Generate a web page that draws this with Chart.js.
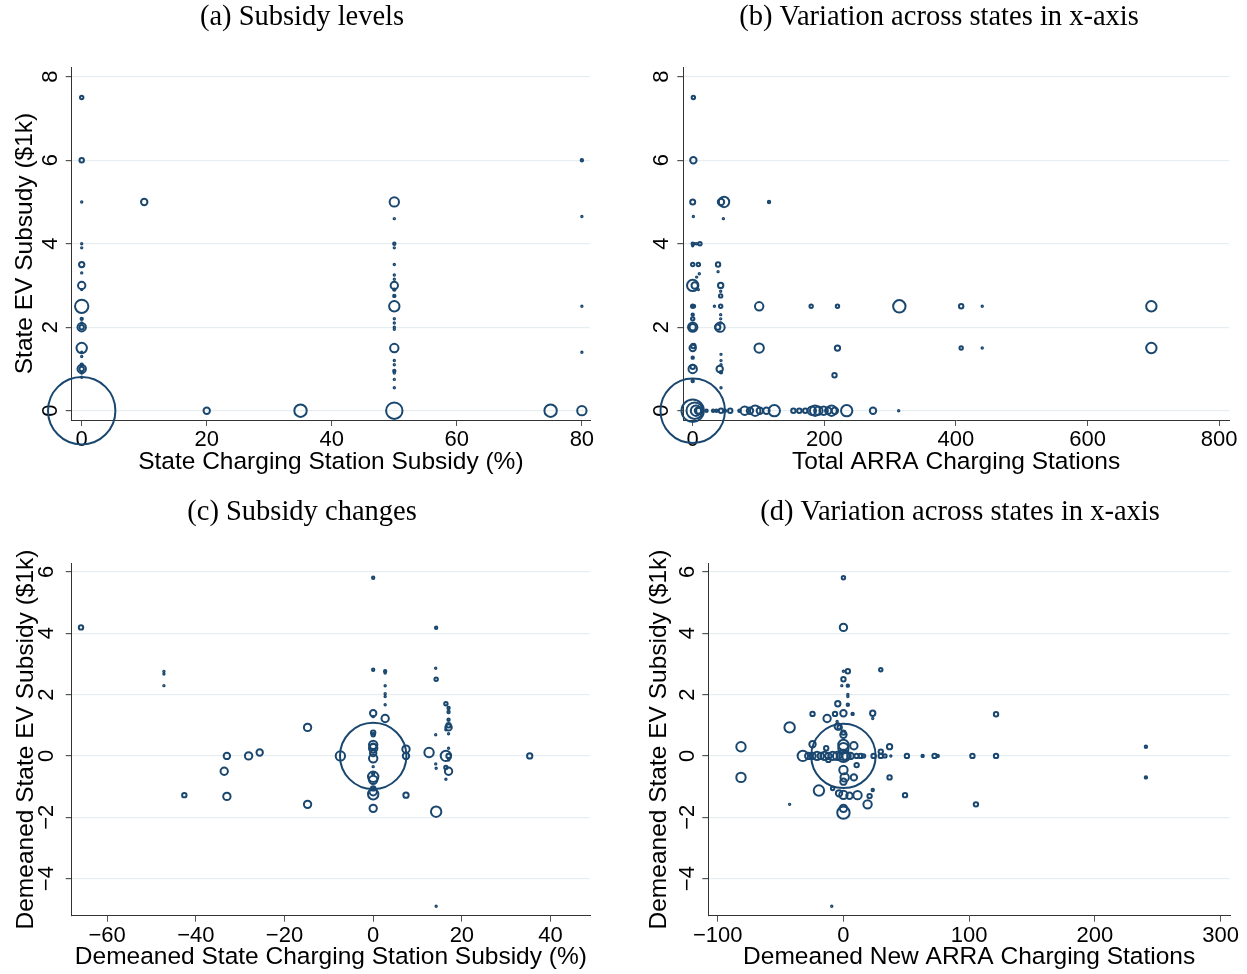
<!DOCTYPE html>
<html>
<head>
<meta charset="utf-8">
<script src="https://cdn.jsdelivr.net/npm/chart.js@4.4.1/dist/chart.umd.min.js"></script>
<style>
  body { margin: 0; background: #fff; }
  #page { position: relative; width: 1247px; height: 974px; overflow: hidden; }
  canvas { position: absolute; }
</style>
</head>
<body>
<div id="page">
  <canvas id="panelA" style="left:0;top:0"></canvas>
  <canvas id="panelB" style="left:623px;top:0"></canvas>
  <canvas id="panelC" style="left:0;top:490px"></canvas>
  <canvas id="panelD" style="left:623px;top:490px"></canvas>
</div>
<script>
// (a) subsidy levels: charging station subsidy (%) vs EV subsidy ($1k), weight = obs weight
const levelsX = [0, 0, 0, 0, 0, 0, 0, 0, 0, 0, 0, 0, 0, 0, 0, 0, 0, 0, 0, 0, 0, 0, 0,
  10, 20, 35, 50, 50, 50, 50, 50, 50, 50, 50, 50, 50, 50, 50, 50, 50, 50, 50, 50, 50, 50, 50, 50, 50, 50,
  75, 80, 80, 80, 80, 80];
const levelsY = [7.5, 6, 5, 4, 3.9, 3.5, 3.3, 3, 2.9, 2.5, 2.2, 2.1, 2, 2, 1.5, 1.4, 1.3, 1.1, 1, 1, 0.9, 0.8, 0,
  5, 0, 0, 0, 5, 4.6, 4, 3.9, 3.5, 3.25, 3.15, 3, 2.9, 2.75, 2.5, 2.2, 2.1, 2, 1.95, 1.5, 1.2, 1.1, 0.95, 0.9, 0.75, 0.55,
  0, 0, 6, 4.65, 2.5, 1.4];
const levelsW = [6.3, 9, 2.3, 1.4, 1, 12, 1, 20, 2.3, 56, 4, 2.3, 25, 9, 36, 2.3, 2.3, 4, 25, 9, 2.3, 1.4, 1190,
  16, 16, 49, 81, 30, 2.3, 4, 1, 2.3, 1, 1, 20, 4, 4, 36, 2.3, 2.3, 2.3, 1, 25, 2.3, 1, 4, 1, 1, 2.3,
  49, 30, 4, 1, 1, 1];

// (b) levels: total ARRA charging stations vs EV subsidy ($1k)
const arraX = [1, 1, 0, 1, 43, 47.6, 46.6, 116,
  0, 3, 6, 11, 0, 0, 8.6, 38.5, 38.5, 10, 6,
  0, 3, 42.5, 8.6, 42.5, 42.5,
  0, 2, 33, 42.5, 101, 180, 220, 314, 408, 440, 697,
  0, 0, 42.5, 42.5, 42.5, 0, 0, 41.5, 38,
  0, 1, 101, 220, 408, 440, 697,
  0, 43, 43, 43, 0, 0, 41, 43, 0, 43, 215.5,
  0, 0, 3, 5, 8, 10, 21, 31, 36, 43, 49, 57, 71, 79, 87, 95, 102, 112, 124,
  153, 162, 171, 181, 186, 191, 199, 206, 211, 216, 234, 274, 313];
const arraY = [7.5, 6, 5, 4.65, 5, 5, 4.6, 5,
  4, 4, 4, 4, 3.95, 3.5, 3.5, 3.5, 3.33, 3.28, 3.2,
  3, 3, 3, 2.9, 2.86, 2.75,
  2.5, 2.5, 2.5, 2.5, 2.5, 2.5, 2.5, 2.5, 2.5, 2.5, 2.5,
  2.3, 2.2, 2.3, 2.2, 2.1, 2, 2, 2, 2,
  1.5, 1.55, 1.5, 1.5, 1.5, 1.5, 1.5,
  1.27, 1.35, 1.2, 1.1, 1, 1.05, 1, 0.92, 0.71, 0.55, 0.85,
  0, 0, 0, 0, 0, 0, 0, 0, 0, 0, 0, 0, 0, 0, 0, 0, 0, 0, 0,
  0, 0, 0, 0, 0, 0, 0, 0, 0, 0, 0, 0, 0];
const arraW = [6.3, 16, 11, 1.4, 16, 36, 2.3, 4,
  4, 2.3, 2.3, 6.3, 1.4, 6.3, 6.3, 9, 1.7, 1.4, 1.4,
  42, 16, 12, 2.3, 2.3, 6.3,
  6.3, 4, 2.3, 6.3, 25, 6.3, 6.3, 49, 9, 2.3, 36,
  4, 6.3, 1.4, 1.4, 2.3, 30, 16, 30, 12,
  16, 9, 30, 12, 6.3, 2.3, 36,
  4, 1.4, 1.4, 2.3, 25, 9, 16, 4, 4, 2.3, 9,
  1089, 144, 81, 36, 16, 16, 4, 4, 4, 9, 4, 9, 4, 25, 16, 36, 16, 16, 42,
  9, 9, 9, 25, 36, 25, 25, 16, 36, 16, 42, 16, 2.3];

// (c) changes: demeaned charging station subsidy (%) vs demeaned EV subsidy ($1k)
const changesX = [-65.9, -47.2, -47.2, -47.2, -42.6, -33, -33.6, -33, -28.1, -25.6, -14.8, -14.8, -7.4,
  0, 0, 2.7, 2.7, 2.7, 2.7, 2.7, 2.7, 0, 0, 0, 0, 0, 0, 0, 0, 0, 0, 0, 0, 0, 0, 0, 0, 0, 0,
  2.7, 7.4, 7.4, 7.4, 12.6, 14.2, 14.1, 14.1, 14.1, 14.2, 14.2, 14.2, 14.2,
  16.4, 17, 17, 17, 17, 16.4, 17, 17, 16.4, 17, 17, 16.4, 17, 16.4, 17, 35.3, 46.8];
const changesY = [4.19, 2.75, 2.67, 2.29, -1.28, 0, -0.5, -1.32, 0, 0.11, 0.93, -1.58, 0,
  5.81, 2.81, 2.76, 2.7, 2.29, 2.03, 1.94, 1.67, 1.39, 1.28, 0.76, 0.69, 0.36, 0.3, 0.25, 0.09, -0.08, -0.35, -0.57, -0.68, -0.78, -1.06, -1.17, -1.71, 0,
  -1.25, 1.22, 0.22, -1.28, 0, 0.11, 4.18, 2.86, 0.69, -0.26, -0.4, -1.82, -4.9,
  2.5, 1.7, 1.56, 1.43, 1.18, 1, 0.85, 0.72, 0.25, 0, 0, -0.13, -0.38, -0.5, -0.76, 0.93, 0];
const changesW = [9, 1, 1, 1, 9, 16, 20, 20, 20, 16, 20, 20, 30,
  4, 4, 4, 2.3, 2.3, 2.3, 2.3, 2.3, 16, 2.3, 9, 6.3, 25, 16, 25, 16, 25, 2.3, 4, 36, 25, 9, 20, 20, 1156,
  36, 20, 20, 12, 16, 30, 4, 1, 1, 2.3, 2.3, 36, 1,
  6.3, 6.3, 4, 4, 4, 9, 2.3, 2.3, 1.4, 36, 9, 1.4, 6.3, 20, 2.3, 16, 12];

// (d) changes: demeaned new ARRA charging stations vs demeaned EV subsidy ($1k)
const newArraX = [0, 0, 0, 3.5, 0, -1.3, 3.5, 3.5, 3.5, 3.5, 29.7, -4.5, -24.6, -6.7, 0, 7.3, 23.3, 23.3, -13, -5,
  -4.5, -3, 0, 0, -42.8, -81.5, -81.5, -24.6, 8.3, 0, 0, 36.7, 29.7,
  -32.3, -28, -24.6, -21, -18, -15, -12, -8.6, -5, 0, 0, 2.5, 5.7, 10.5, 13.7, 16, 24, 29.7, 33, 37.7,
  50.5, 63, 72.5, 75, 102.6, 121.4, 0,
  -13.7, -12, 10.5, 0, 1, 0, 8.3, 36.7, 23.3, -19.5, -8.6, -3.5, 0, 4.8, 11.2, 20.8, 49, 19.2, 105.4,
  0, 0, -42.8, -9.3, 121.4, 240.6, 240.6];
const newArraY = [5.81, 4.19, 2.76, 2.76, 2.5, 2.29, 2.29, 2, 1.94, 1.67, 2.81, 1.7, 1.37, 1.37, 1.39, 1.37, 1.39, 1.22, 1.22, 1.12,
  0.96, 0.93, 0.76, 0.69, 0.93, 0.3, -0.7, 0.38, 0.33, 0.36, 0.25, 0.3, 0.14,
  0, 0, 0, 0, 0, 0, 0, 0, 0, 0, 0, 0, 0, 0, 0, 0, 0, 0, 0, 0,
  0, 0, 0, 0, 0, 0, 0,
  0.25, -0.13, -0.3, -0.46, -0.7, -0.84, -0.7, -0.7, -1.11, -1.13, -1.06, -1.22, -1.27, -1.3, -1.28, -1.31, -1.28, -1.58, -1.58,
  -1.71, -1.85, -1.58, -4.9, 1.36, 0.3, -0.7];
const newArraW = [6.3, 20, 2.3, 9, 9, 1.4, 4, 2.3, 2.3, 4, 6.3, 12, 9, 9, 16, 4, 12, 1.4, 20, 2.3,
  16, 9, 9, 16, 36, 30, 30, 16, 20, 36, 36, 12, 9,
  36, 16, 16, 25, 16, 25, 16, 25, 25, 49, 25, 25, 16, 9, 9, 6.3, 9, 9, 6.3, 2.3,
  9, 4, 9, 4, 9, 9, 1089,
  9, 9, 9, 25, 25, 16, 16, 9, 4, 36, 6.3, 16, 25, 16, 25, 9, 9, 25, 9,
  20, 49, 2.3, 2.3, 9, 4, 4];

const levelTicksY = [0, 2, 4, 6, 8];
const changeTicksY = [-4, -2, 0, 2, 4, 6];
const ticksA = [0, 20, 40, 60, 80];
const ticksB = [0, 200, 400, 600, 800];
const ticksC = [-60, -40, -20, 0, 20, 40];
const ticksD = [-100, 0, 100, 200, 300];

const NAVY = '#1a476f';
const GRID = '#e6eef1';
const AXIS_FONT = {family: 'Liberation Sans', size: 24.5, lineHeight: 0.9};
const TICK_FONT = {family: 'Liberation Sans', size: 22};

// panel heading, drawn at a fixed spot over each chart
const panelTitle = {
    id: 'panelTitle',
    afterDraw(chart, args, opts) {
        const ctx = chart.ctx;
        ctx.save();
        ctx.font = '28.5px "Liberation Serif"';
        ctx.fillStyle = '#000';
        ctx.textAlign = 'center';
        ctx.textBaseline = 'middle';
        ctx.fillText(opts.text, opts.x, opts.y);
        ctx.restore();
    }
};

// marker radius grows with sqrt of the weight (stroke eats a bit of it)
function bubbles(xs, ys, ws) {
    return xs.map((x, i) => ({x: x, y: ys[i], r: Math.max(0.7, Math.sqrt(ws[i]) - 0.8)}));
}

function minus(v) {
    return String(v).replace('-', '\u2212');
}

function setPanel(id, p) {
    const canvas = document.getElementById(id);
    canvas.width = p.W;
    canvas.height = p.H;
    const half = AXIS_FONT.size * AXIS_FONT.lineHeight / 2;
    const pl = p.yTitle ? p.yTitleX - half : 0;
    const pr = p.W - p.right;
    const yw = p.left - pl;

    const config = {
        type: 'bubble',
        data: {
            datasets: [{
                data: bubbles(p.xs, p.ys, p.ws),
                borderColor: NAVY,
                backgroundColor: 'rgba(0,0,0,0)',
                borderWidth: 2,
                clip: false
            }]
        },
        options: {
            responsive: false,
            animation: false,
            devicePixelRatio: 1,
            layout: {
                autoPadding: false,
                padding: {left: pl, right: pr, top: p.top, bottom: 0}
            },
            plugins: {
                legend: {display: false},
                tooltip: {enabled: false},
                panelTitle: {text: p.title, x: p.titleX, y: p.titleY}
            },
            scales: {
                x: {
                    type: 'linear',
                    min: p.xMin,
                    max: p.xMax,
                    afterBuildTicks: s => { s.ticks = p.xTicks.map(v => ({value: v})); },
                    afterFit: s => { s.height = p.H - p.bottom; },
                    grid: {drawOnChartArea: false, tickLength: 6, tickColor: '#555'},
                    border: {color: '#333', width: 1},
                    ticks: {font: TICK_FONT, color: '#000', padding: 1, maxRotation: 0, callback: minus},
                    title: {
                        display: true, text: p.xTitle, color: '#000', font: AXIS_FONT,
                        padding: {top: 0, bottom: p.H - p.xTitleY - half}
                    }
                },
                y: {
                    type: 'linear',
                    min: p.yMin,
                    max: p.yMax,
                    afterBuildTicks: s => { s.ticks = p.yTicks.map(v => ({value: v})); },
                    afterFit: s => { s.width = yw; },
                    grid: {color: GRID, lineWidth: 1.2, tickLength: 6, tickColor: '#555'},
                    border: {color: '#333', width: 1},
                    ticks: {font: TICK_FONT, color: '#000', padding: p.yPad, minRotation: 90, maxRotation: 90,
                        crossAlign: 'center', callback: minus},
                    title: {
                        display: !!p.yTitle, text: p.yTitle || '', color: '#000', font: AXIS_FONT,
                        padding: {top: 0, bottom: 0}
                    }
                }
            }
        },
        plugins: [panelTitle]
    };

    new Chart(canvas, config);
}

setPanel('panelA', {
    W: 623, H: 490, left: 71.7, right: 590, top: 67, bottom: 420,
    titleX: 302, titleY: 18, xTitleY: 462, yTitleX: 25, yPad: 9,
    xMin: -1.6, xMax: 81.3, yMin: -0.223, yMax: 8.232,
    xTicks: ticksA, yTicks: levelTicksY,
    xs: levelsX, ys: levelsY, ws: levelsW,
    title: '(a) Subsidy levels',
    xTitle: 'State Charging Station Subsidy (%)',
    yTitle: 'State EV Subsudy ($1k)'
});

setPanel('panelB', {
    W: 624, H: 490, left: 60.3, right: 606, top: 67, bottom: 420,
    titleX: 316, titleY: 18, xTitleY: 462, yTitleX: 0, yPad: 9,
    xMin: -14.3, xMax: 815, yMin: -0.223, yMax: 8.232,
    xTicks: ticksB, yTicks: levelTicksY,
    xs: arraX, ys: arraY, ws: arraW,
    title: '(b) Variation across states in x-axis',
    xTitle: 'Total ARRA Charging Stations',
    yTitle: ''
});

setPanel('panelC', {
    W: 623, H: 484, left: 71.7, right: 590, top: 73.3, bottom: 425.7,
    titleX: 302, titleY: 23, xTitleY: 467, yTitleX: 26, yPad: 6.5,
    xMin: -68, xMax: 48.9, yMin: -5.21, yMax: 6.28,
    xTicks: ticksC, yTicks: changeTicksY,
    xs: changesX, ys: changesY, ws: changesW,
    title: '(c) Subsidy changes',
    xTitle: 'Demeaned State Charging Station Subsidy (%)',
    yTitle: 'Demeaned State EV Subsidy ($1k)'
});

setPanel('panelD', {
    W: 624, H: 484, left: 85.3, right: 607, top: 73.3, bottom: 425.7,
    titleX: 337, titleY: 23, xTitleY: 467, yTitleX: 36, yPad: 2,
    xMin: -107.5, xMax: 307.5, yMin: -5.21, yMax: 6.28,
    xTicks: ticksD, yTicks: changeTicksY,
    xs: newArraX, ys: newArraY, ws: newArraW,
    title: '(d) Variation across states in x-axis',
    xTitle: 'Demeaned New ARRA Charging Stations',
    yTitle: 'Demeaned State EV Subsidy ($1k)'
});
</script>
</body>
</html>
